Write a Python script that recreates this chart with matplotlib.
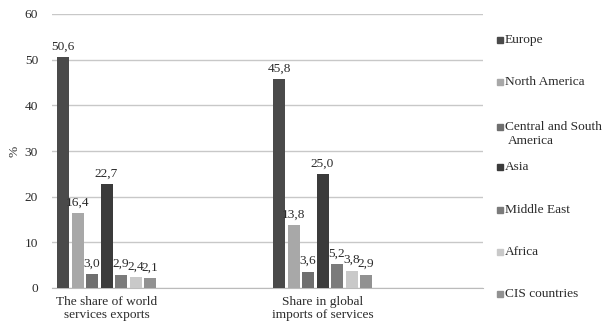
import matplotlib
matplotlib.use("Agg")
import matplotlib.pyplot as plt
import numpy as np
from matplotlib.patches import Rectangle

categories = ["The share of world\nservices exports", "Share in global\nimports of services"]
regions = ["Europe", "North America", "Central and South\nAmerica", "Asia",
           "Middle East", "Africa", "CIS countries"]
values = {
    "Europe": [50.6, 45.8],
    "North America": [16.4, 13.8],
    "Central and South\nAmerica": [3.0, 3.6],
    "Asia": [22.7, 25.0],
    "Middle East": [2.9, 5.2],
    "Africa": [2.4, 3.8],
    "CIS countries": [2.1, 2.9],
}
colors = ["#4a4a4a", "#a8a8a8", "#6f6f6f", "#3b3b3b", "#7b7b7b", "#c9c9c9", "#919191"]
yticks = [0, 10, 20, 30, 40, 50, 60]

plt.rcParams['font.family'] = ['Liberation Serif', 'DejaVu Serif']
FS = 9.6
TC = "#2a2a2a"
W, H = 606, 329
fig = plt.figure(figsize=(W / 100, H / 100), dpi=100)
ax = fig.add_axes([52 / W, 1 - 288 / H, (483 - 52) / W, (288 - 14) / H])

unit = 216.0
pitch = 14.5 / unit
bw = 12.0 / unit
x = np.arange(len(categories))
n = len(regions)
for i, (r, c) in enumerate(zip(regions, colors)):
    pos = x + (i - (n - 1) / 2) * pitch
    bars = ax.bar(pos, values[r], width=bw, color=c, zorder=3)
    for b, v in zip(bars, values[r]):
        ax.text(b.get_x() + b.get_width() / 2, v + 1.0,
                f"{v:.1f}".replace(".", ","), ha="center", va="bottom",
                fontsize=FS, color=TC, zorder=4)

ax.set_xlim((52 - 106.5) / unit, (483 - 106.5) / unit)
ax.set_ylim(0, 60)
ax.set_yticks(yticks)
ax.set_xticks(x)
ax.set_xticklabels(categories, fontsize=FS, color=TC, linespacing=1.1)
ax.tick_params(axis="both", length=0, labelsize=FS, colors=TC)
ax.tick_params(axis="y", pad=10)
ax.tick_params(axis="x", pad=6)
ax.grid(axis="y", color="#c8c8c8", linewidth=1, zorder=0)
for s in ["top", "right", "left"]:
    ax.spines[s].set_visible(False)
ax.spines["bottom"].set_color("#bbbbbb")
ax.set_ylabel("%", fontsize=FS, color=TC)
ax.yaxis.set_label_coords((20 - 52) / 431, 0.5)

# legend
leg_y = [40, 82, 127, 167, 210, 252, 294]
for r, c, yy in zip(regions, colors, leg_y):
    fig.patches.append(Rectangle((497 / W, 1 - (yy + 3) / H), 6 / W, 6 / H,
                                 transform=fig.transFigure, color=c))
    fig.text(505 / W, 1 - yy / H, r.split("\n")[0], fontsize=FS,
             va="center", ha="left", color=TC)
    if "\n" in r:
        fig.text(508 / W, 1 - (yy + 14) / H, r.split("\n")[1], fontsize=FS,
                 va="center", ha="left", color=TC)

fig.savefig("out.png", dpi=100, facecolor="white")
